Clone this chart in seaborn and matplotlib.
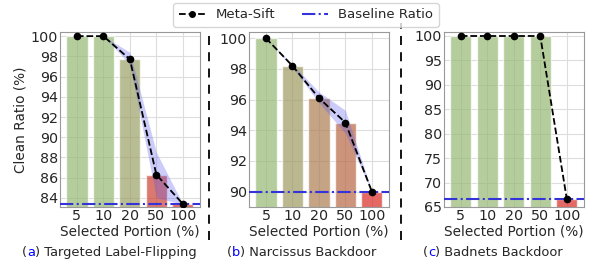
import numpy as np
import pandas as pd
import matplotlib
matplotlib.use("Agg")
import matplotlib.pyplot as plt
import seaborn as sns
from matplotlib.lines import Line2D

portions = ["5", "10", "20", "50", "100"]

# (a) targeted label flipping
flip_ratio = [100.0, 100.0, 97.7, 86.3, 83.4]
flip_low = [100.0, 100.0, 97.2, 84.0, 83.4]
flip_high = [100.0, 100.0, 98.4, 88.5, 83.4]
flip_base = 83.4

# (b) narcissus backdoor
narc_ratio = [100.0, 98.2, 96.1, 94.5, 90.0]
narc_low = [100.0, 98.1, 95.8, 93.8, 90.0]
narc_high = [100.0, 98.3, 96.5, 95.3, 90.0]
narc_base = 90.0

# (c) badnets backdoor
bad_ratio = [100.0, 100.0, 100.0, 100.0, 66.7]
bad_low = [100.0, 100.0, 100.0, 100.0, 66.7]
bad_high = [100.0, 100.0, 100.0, 100.0, 66.7]
bad_base = 66.7

captions = ["Targeted Label-Flipping", "Narcissus Backdoor", "Badnets Backdoor"]
letters = ["a", "b", "c"]

sns.set_style("whitegrid", {"axes.edgecolor": "#999999", "grid.color": "#dddddd"})
plt.rcParams['font.family'] = ['DejaVu Sans']

green = np.array([0.59, 0.77, 0.41])
red = np.array([0.97, 0.05, 0.02])

fig = plt.figure(figsize=(5.95, 2.63), dpi=100)
lefts = [0.1008, 0.4185, 0.746]
panels = [
    (flip_ratio, flip_low, flip_high, flip_base, (83.1, 100.4), np.arange(84, 101, 2)),
    (narc_ratio, narc_low, narc_high, narc_base, (89.0, 100.4), np.arange(90, 101, 2)),
    (bad_ratio, bad_low, bad_high, bad_base, (65.0, 100.8), np.arange(65, 101, 5)),
]

for i, (vals, lo, hi, base, ylim, yt) in enumerate(panels):
    ax = fig.add_axes([lefts[i], 0.213, 0.235, 0.665])
    df = pd.DataFrame({"Portion": portions, "Ratio": vals})
    t = [(v - base) / (100 - base) for v in vals]
    cols = [tuple(red + (green - red) * k) for k in t]
    sns.barplot(data=df, x="Portion", y="Ratio", hue="Portion", palette=cols,
                width=0.8, alpha=0.7, legend=False, ax=ax, zorder=2)
    xs = np.arange(len(portions))
    ax.fill_between(xs, lo, hi, color=(0.35, 0.35, 0.95), alpha=0.3, lw=0, zorder=3)
    ax.plot(xs, vals, "k--", marker="o", ms=4.5, lw=1.3, zorder=5)
    ax.axhline(base, color=(0.2, 0.2, 0.85), ls="-.", lw=1.5, zorder=4)
    ax.set_xlim(-0.64, 4.64)
    ax.set_ylim(*ylim)
    ax.set_yticks(yt)
    ax.set_xlabel("Selected Portion (%)", fontsize=9.8, labelpad=1)
    if i == 0:
        ax.set_ylabel("Clean Ratio (%)", fontsize=9.8, labelpad=2)
    else:
        ax.set_ylabel("")
    ax.tick_params(axis="both", pad=1.5, length=0, labelsize=10.3)
    ax.grid(True, zorder=0)
    ax.set_axisbelow(True)

# captions with blue letter
cap_x = [22 / 595, 227 / 595, 423 / 595]
for i in range(3):
    t1 = fig.text(cap_x[i], 0.027, "(", fontsize=9.4, va="baseline")
    a2 = plt.annotate(letters[i], xy=(1, 0), xycoords=t1, va="bottom",
                      color="blue", fontsize=9.4, annotation_clip=False)
    plt.annotate(") " + captions[i], xy=(1, 0), xycoords=a2, va="bottom",
                 fontsize=9.4, annotation_clip=False)

# dashed separators
for xsep, ytop in [(209 / 595, 1 - 30 / 263), (401 / 595, 1 - 23 / 263)]:
    fig.add_artist(Line2D([xsep, xsep], [1 - 240 / 263, ytop], color="black",
                          ls=(0, (5, 4)), lw=1.3, transform=fig.transFigure))

handles = [
    Line2D([], [], color="black", ls="--", marker="o", ms=4, lw=1.3),
    Line2D([], [], color=(0.2, 0.2, 0.85), ls="-.", lw=1.5),
]
fig.legend(handles, ["Meta-Sift", "Baseline Ratio"], loc="center",
           bbox_to_anchor=(306 / 595, 1 - 15 / 263), ncol=2, fontsize=9.5,
           frameon=True, columnspacing=2.0, handlelength=2.0, handletextpad=0.8,
           borderpad=0.4, edgecolor="#cccccc")

fig.savefig("out.png", dpi=100)
